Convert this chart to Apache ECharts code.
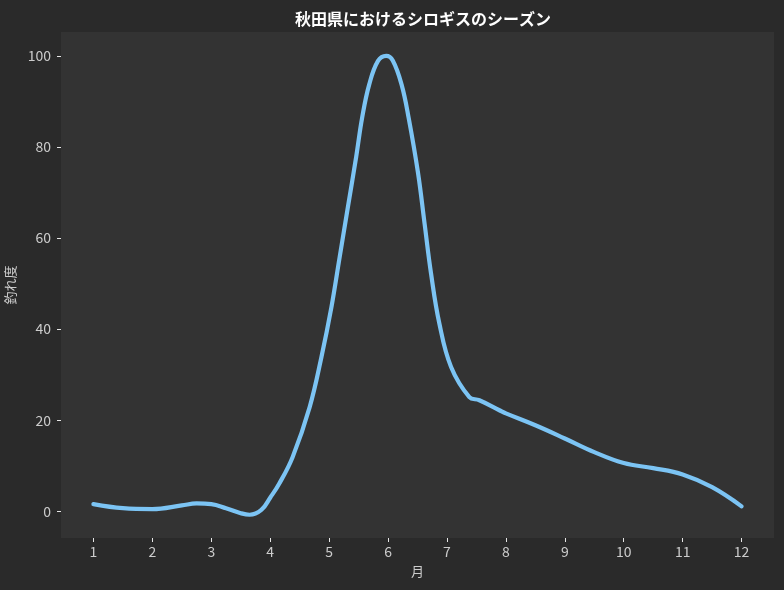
<!DOCTYPE html>
<html>
<head>
<meta charset="utf-8">
<title>秋田県におけるシロギスのシーズン</title>
<script src="https://cdn.jsdelivr.net/npm/echarts@6/dist/echarts.min.js"></script>
<style>
  html, body { margin: 0; padding: 0; background: #2a2a2a; }
  #chart { width: 784px; height: 590px; }
</style>
</head>
<body>
<div id="chart"></div>
<script>
// Month positions along the smoothed season curve (1 = January ... 12 = December)
const monthPos = [
  1.0, 1.5, 2.0, 2.5, 2.75, 3.0, 3.25, 3.5, 3.65, 3.85,
  4.0, 4.15, 4.38, 4.67, 4.87, 5.04, 5.18, 5.32, 5.46, 5.56,
  5.68, 5.83, 5.97, 6.08, 6.23, 6.35, 6.51, 6.62, 6.73, 6.87,
  7.07, 7.38, 7.55, 7.89, 8.0, 8.5, 9.0, 9.5, 10.0, 10.5,
  11.0, 11.5, 12.0
];
// Catch index (釣れ度) at each position
const catchIndex = [
  1.6, 0.7, 0.5, 1.3, 1.75, 1.6, 0.7, -0.4, -0.75, 0.3,
  3.0, 6.0, 11.9, 22.9, 33.9, 44.9, 55.9, 66.9, 77.9, 86.4,
  93.7, 98.9, 100.0, 99.0, 93.7, 86.4, 74.2, 63.2, 52.2, 41.3,
  31.7, 25.1, 24.4, 22.2, 21.5, 18.9, 16.0, 13.0, 10.6, 9.5,
  8.1, 5.3, 1.1
];
// Tick labels
const monthTicks = [1, 2, 3, 4, 5, 6, 7, 8, 9, 10, 11, 12];
const valueTicks = [0, 20, 40, 60, 80, 100];

const cjk = '"Noto Sans CJK JP", sans-serif';
const tickFont = '"Liberation Sans Narrow", "Noto Sans CJK JP", sans-serif';

const chart = echarts.init(document.getElementById('chart'), null, { renderer: 'canvas' });

// Spines are hidden; the axis line is kept but transparent so ticks still render on the plot edge
const hiddenSpine = { show: true, onZero: false, lineStyle: { color: 'rgba(0,0,0,0)' } };

chart.setOption({
  backgroundColor: '#2a2a2a',
  animation: false,
  title: {
    text: '秋田県におけるシロギスのシーズン',
    left: 418,
    top: 6,
    textAlign: 'center',
    textStyle: { color: '#ffffff', fontSize: 16, fontWeight: 'bold', fontFamily: cjk }
  },
  grid: {
    left: 61, right: 10, top: 32, bottom: 52,
    outerBoundsMode: 'none',
    containLabel: false,
    show: true, backgroundColor: '#333333', borderWidth: 0
  },
  xAxis: {
    type: 'value',
    min: 0.45,
    max: 12.55,
    name: '月',
    nameLocation: 'middle',
    nameGap: 27,
    nameTextStyle: { color: '#cccccc', fontSize: 13, fontFamily: cjk },
    axisLine: hiddenSpine,
    splitLine: { show: false },
    axisTick: {
      show: true, length: 4, inside: false,
      customValues: monthTicks,
      lineStyle: { color: '#e6e6e6', width: 1 }
    },
    axisLabel: {
      customValues: monthTicks,
      color: '#cccccc', fontSize: 14, margin: 7, fontFamily: tickFont
    }
  },
  yAxis: {
    type: 'value',
    min: -5.85,
    max: 105.25,
    name: '釣れ度',
    nameLocation: 'middle',
    nameRotate: 90,
    nameGap: 40,
    nameTextStyle: { color: '#cccccc', fontSize: 13, fontFamily: cjk },
    axisLine: hiddenSpine,
    splitLine: { show: false },
    axisTick: {
      show: true, length: 4, inside: false,
      customValues: valueTicks,
      lineStyle: { color: '#e6e6e6', width: 1 }
    },
    axisLabel: {
      customValues: valueTicks,
      color: '#cccccc', fontSize: 14, margin: 10, fontFamily: tickFont
    }
  },
  series: [{
    type: 'line',
    data: monthPos.map((m, i) => [m, catchIndex[i]]),
    smooth: 0.4,
    showSymbol: false,
    lineStyle: { color: '#7cc4f4', width: 4.2, cap: 'round', join: 'round' }
  }]
});
</script>
</body>
</html>
